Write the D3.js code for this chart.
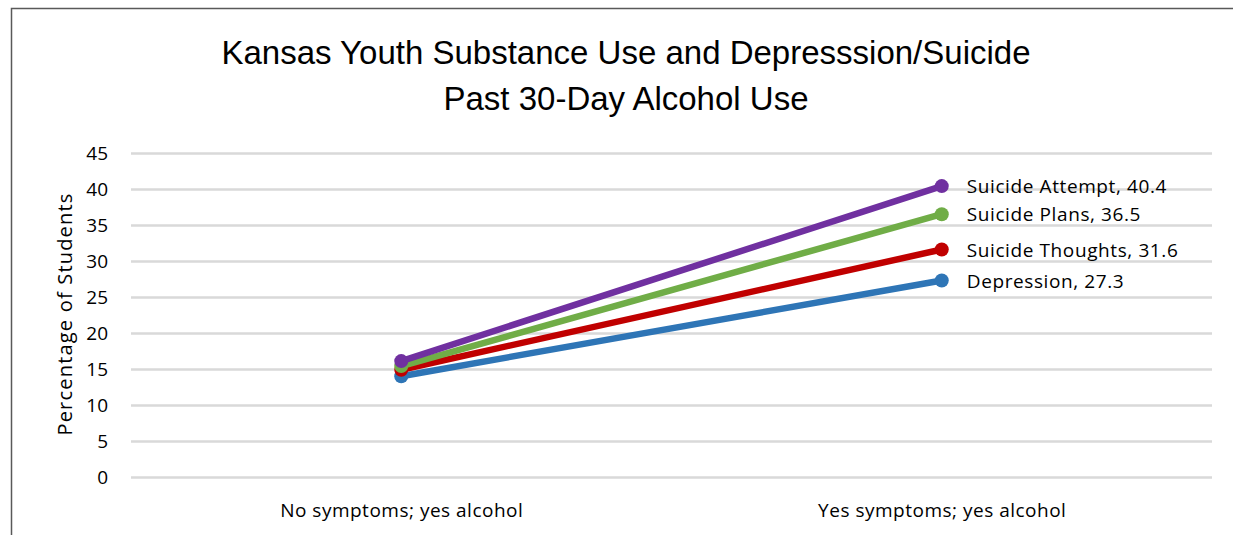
<!DOCTYPE html>
<html>
<head>
<meta charset="utf-8">
<script src="https://cdn.jsdelivr.net/npm/d3@7"></script>
<style>
  body { margin: 0; background: #fff; }
  text { font-family: 'Liberation Sans Narrow', 'Liberation Sans', sans-serif; fill: #000; }
</style>
</head>
<body>
<div class="chart"></div>
<script>
const categories = ['No symptoms; yes alcohol', 'Yes symptoms; yes alcohol']
const seriesNames = ['Depression', 'Suicide Thoughts', 'Suicide Plans', 'Suicide Attempt']
const depression = [14.0, 27.3]
const thoughts = [14.9, 31.6]
const plans = [15.4, 36.5]
const attempt = [16.1, 40.4]
const colors = ['#2E75B6', '#C00000', '#70AD47', '#7030A0']
const yTicks = [0, 5, 10, 15, 20, 25, 30, 35, 40, 45]

const series = [depression, thoughts, plans, attempt].map((v, i) => ({
    name: seriesNames[i], values: v, color: colors[i]
}))

const W = 1233, H = 535
const margin = ({ top: 153, right: 21, bottom: 58, left: 131 })
const width = W - margin.left - margin.right
const height = H - margin.top - margin.bottom

// CHART INIT ------------------------------
const root = d3.select('.chart')
    .append('svg')
    .attr('width', W)
    .attr('height', H)

// outer frame
root.append('rect')
    .attr('x', 11.5).attr('y', 8.5)
    .attr('width', W + 10).attr('height', H + 10)
    .attr('fill', 'none')
    .attr('stroke', '#595959')
    .attr('stroke-width', 1.5)

root.append('text')
    .attr('x', 626).attr('y', 64)
    .attr('text-anchor', 'middle')
    .style('font-size', '33px')
    .text('Kansas Youth Substance Use and Depresssion/Suicide')
root.append('text')
    .attr('x', 626).attr('y', 110)
    .attr('text-anchor', 'middle')
    .style('font-size', '33px')
    .text('Past 30-Day Alcohol Use')

const svg = root.append('g')
    .attr('transform', 'translate(' + margin.left + ',' + margin.top + ')')

const xScale = d3.scalePoint()
    .domain(categories)
    .range([0, width])
    .padding(0.5)

const yScale = d3.scaleLinear()
    .domain([0, 45])
    .range([height, 0])

// grid + y axis
const yAxis = d3.axisLeft(yScale).tickValues(yTicks).tickSize(-width).tickPadding(23)
svg.append('g').attr('class', 'axis y-axis')
    .call(yAxis)
    .call(g => g.select('.domain').remove())
    .call(g => g.selectAll('.tick line').attr('stroke', '#D9D9D9').attr('stroke-width', 2.5))
    .call(g => g.selectAll('.tick text').style('font-size', '19px')
        .style('font-family', "'Open Sans', sans-serif").attr('fill', '#000'))

// x axis labels
const xAxis = d3.axisBottom(xScale).tickSize(0).tickPadding(27)
svg.append('g').attr('class', 'axis x-axis')
    .attr('transform', `translate(0, ${height})`)
    .call(xAxis)
    .call(g => g.select('.domain').remove())
    .call(g => g.selectAll('.tick text').style('font-size', '19px')
        .style('letter-spacing', '0.5px')
        .style('font-family', "'Open Sans', sans-serif").attr('fill', '#000'))

root.append('text')
    .attr('transform', 'translate(72,' + 314 + ') rotate(-90)')
    .attr('text-anchor', 'middle')
    .style('font-size', '20px')
    .style('letter-spacing', '1.2px')
    .style('font-family', "'Open Sans', sans-serif")
    .text('Percentage  of Students')

const line = d3.line()
    .x((d, i) => xScale(categories[i]))
    .y(d => yScale(d))

const sg = svg.selectAll('.series')
    .data(series)
    .enter()
    .append('g')
    .attr('class', 'series')

sg.append('path')
    .attr('d', d => line(d.values))
    .attr('fill', 'none')
    .attr('stroke', d => d.color)
    .attr('stroke-width', 6.5)
    .attr('stroke-linecap', 'round')

sg.selectAll('circle')
    .data(d => d.values.map(v => ({ v, color: d.color })))
    .enter()
    .append('circle')
    .attr('cx', (d, i) => xScale(categories[i]))
    .attr('cy', d => yScale(d.v))
    .attr('r', 7)
    .attr('fill', d => d.color)

sg.append('text')
    .attr('x', xScale(categories[1]) + 25)
    .attr('y', d => yScale(d.values[1]) + 2)
    .attr('dominant-baseline', 'middle')
    .style('font-size', '19px')
    .style('letter-spacing', '0.6px')
    .style('font-family', "'Open Sans', sans-serif")
    .text(d => d.name + ', ' + d.values[1])
</script>
</body>
</html>
